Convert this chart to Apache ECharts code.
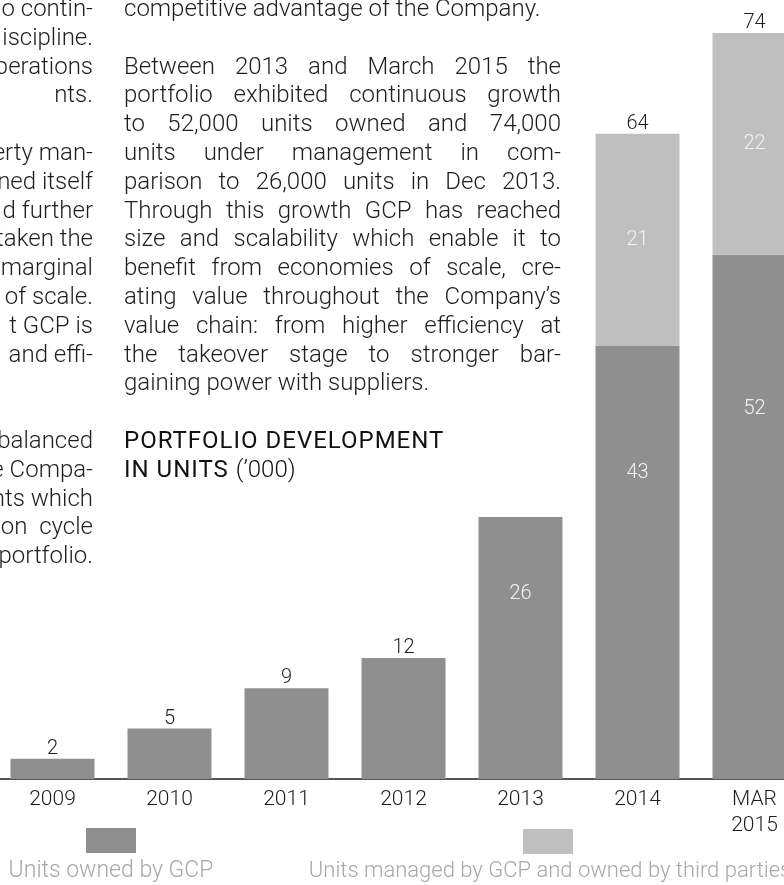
<!DOCTYPE html>
<html>
<head>
<meta charset="utf-8">
<script src="https://cdn.jsdelivr.net/npm/echarts@6/dist/echarts.min.js"></script>
<style>
html, body { margin: 0; padding: 0; background: #fff; }
body { width: 784px; height: 885px; overflow: hidden; position: relative; }
/* the chart runs a little past both page edges, like the cropped original */
#chart { position: absolute; left: -6px; top: 0; width: 819px; height: 885px; }
.txt {
  position: absolute;
  font-family: Roboto, 'Liberation Sans', sans-serif;
  font-weight: 300;
  font-size: 24px;
  line-height: 28.8px;
  color: #1e1e1e;
  pointer-events: none;
}
.left { right: 691px; text-align: right; white-space: nowrap; }
.right { left: 124px; width: 437px; }
.right div { text-align: justify; text-align-last: justify; white-space: nowrap; }
.right div.end { text-align-last: left; }
.title { font-weight: 400; color: #111; letter-spacing: 1px; }
.title span { font-weight: 300; letter-spacing: 0; }
</style>
</head>
<body>
<div id="chart"></div>
<!-- left column, cut off by the page edge -->
<div class="txt left" style="top:-6px">
  <div>o contin-</div>
  <div>iscipline.</div>
  <div>perations</div>
  <div>nts.</div>
  <div>&nbsp;</div>
  <div>erty man-</div>
  <div>ned itself</div>
  <div>d further</div>
  <div>taken the</div>
  <div>marginal</div>
  <div>of scale.</div>
  <div>t GCP is</div>
  <div>and effi-</div>
  <div>&nbsp;</div>
  <div>&nbsp;</div>
  <div>balanced</div>
  <div>e Compa-</div>
  <div>nts which</div>
  <div>on&nbsp; cycle</div>
  <div>portfolio.</div>
</div>
<div class="txt right" style="top:-6px">
  <div class="end">competitive advantage of the Company.</div>
  <div class="end">&nbsp;</div>
  <div>Between 2013 and March 2015 the</div>
  <div>portfolio exhibited continuous growth</div>
  <div>to 52,000 units owned and 74,000</div>
  <div>units under management in com-</div>
  <div>parison to 26,000 units in Dec 2013.</div>
  <div>Through this growth GCP has reached</div>
  <div>size and scalability which enable it to</div>
  <div>benefit from economies of scale, cre-</div>
  <div>ating value throughout the Company’s</div>
  <div>value chain: from higher efficiency at</div>
  <div>the takeover stage to stronger bar-</div>
  <div class="end">gaining power with suppliers.</div>
  <div class="end">&nbsp;</div>
  <div class="end title">PORTFOLIO DEVELOPMENT</div>
  <div class="end title">IN UNITS <span>(’000)</span></div>
</div>
<script>
var years = ['2009', '2010', '2011', '2012', '2013', '2014', 'MAR\n2015']
var owned = [2, 5, 9, 12, 26, 43, 52]
var managed = [0, 0, 0, 0, 0, 21, 22]
var seriesNames = ['Units owned by GCP', 'Units managed by GCP and owned by third parties']

var colorOwned = '#8e8f8e'
var colorManaged = '#bebfbe'
var font = 'Roboto, "Liberation Sans", sans-serif'
var shift = 6 // chart div starts 6px left of the page

var chart = echarts.init(document.getElementById('chart'))

// labels inside the big bars, above the small ones
var ownedData = owned.map(function (v) {
  return { value: v, label: { show: v >= 20 } }
})
var managedData = managed.map(function (v) {
  return v > 0 ? { value: v, label: { show: true } } : '-'
})
var totalData = owned.map(function (v, i) {
  var t = v + managed[i]
  return { value: t, label: { show: !(v >= 20 && managed[i] === 0) } }
})

var option = {
  animation: false,
  grid: { left: 0, right: 0, top: 33, bottom: 106 },
  xAxis: {
    type: 'category',
    data: years,
    axisTick: { show: false },
    axisLine: { lineStyle: { color: '#555', width: 2 } },
    axisLabel: {
      color: '#1e1e1e',
      fontFamily: font,
      fontWeight: 300,
      fontSize: 21,
      lineHeight: 26,
      margin: 8,
      verticalAlign: 'top'
    }
  },
  yAxis: {
    type: 'value',
    min: 0,
    max: 74,
    show: false
  },
  series: [
    {
      name: seriesNames[0],
      type: 'bar',
      stack: 'units',
      barWidth: 84,
      data: ownedData,
      itemStyle: { color: colorOwned },
      label: {
        position: ['50%', '29.5%'],
        align: 'center',
        verticalAlign: 'middle',
        color: '#f2f2f2',
        fontFamily: font,
        fontWeight: 300,
        fontSize: 20
      }
    },
    {
      name: seriesNames[1],
      type: 'bar',
      stack: 'units',
      barWidth: 84,
      data: managedData,
      itemStyle: { color: colorManaged },
      label: {
        position: 'inside',
        color: '#f2f2f2',
        fontFamily: font,
        fontWeight: 300,
        fontSize: 20
      }
    },
    {
      name: 'total',
      type: 'bar',
      barWidth: 84,
      barGap: '-100%',
      silent: true,
      z: 1,
      data: totalData,
      itemStyle: { color: 'rgba(0,0,0,0)' },
      label: {
        position: 'top',
        distance: 0,
        color: '#1e1e1e',
        fontFamily: font,
        fontWeight: 300,
        fontSize: 20
      }
    }
  ],
  graphic: [
    { type: 'rect', left: 86 + shift, top: 828, shape: { width: 50, height: 25 }, style: { fill: colorOwned } },
    {
      type: 'text', x: 111 + shift, y: 871,
      style: { text: seriesNames[0], fill: '#a8a8a8', font: '300 23px ' + font, align: 'center', verticalAlign: 'middle' }
    },
    { type: 'rect', left: 523 + shift, top: 829, shape: { width: 50, height: 25 }, style: { fill: colorManaged } },
    {
      type: 'text', x: 550 + shift, y: 871,
      style: { text: seriesNames[1], fill: '#a8a8a8', font: '300 22px ' + font, align: 'center', verticalAlign: 'middle' }
    }
  ]
}
chart.setOption(option)
</script>
</body>
</html>
